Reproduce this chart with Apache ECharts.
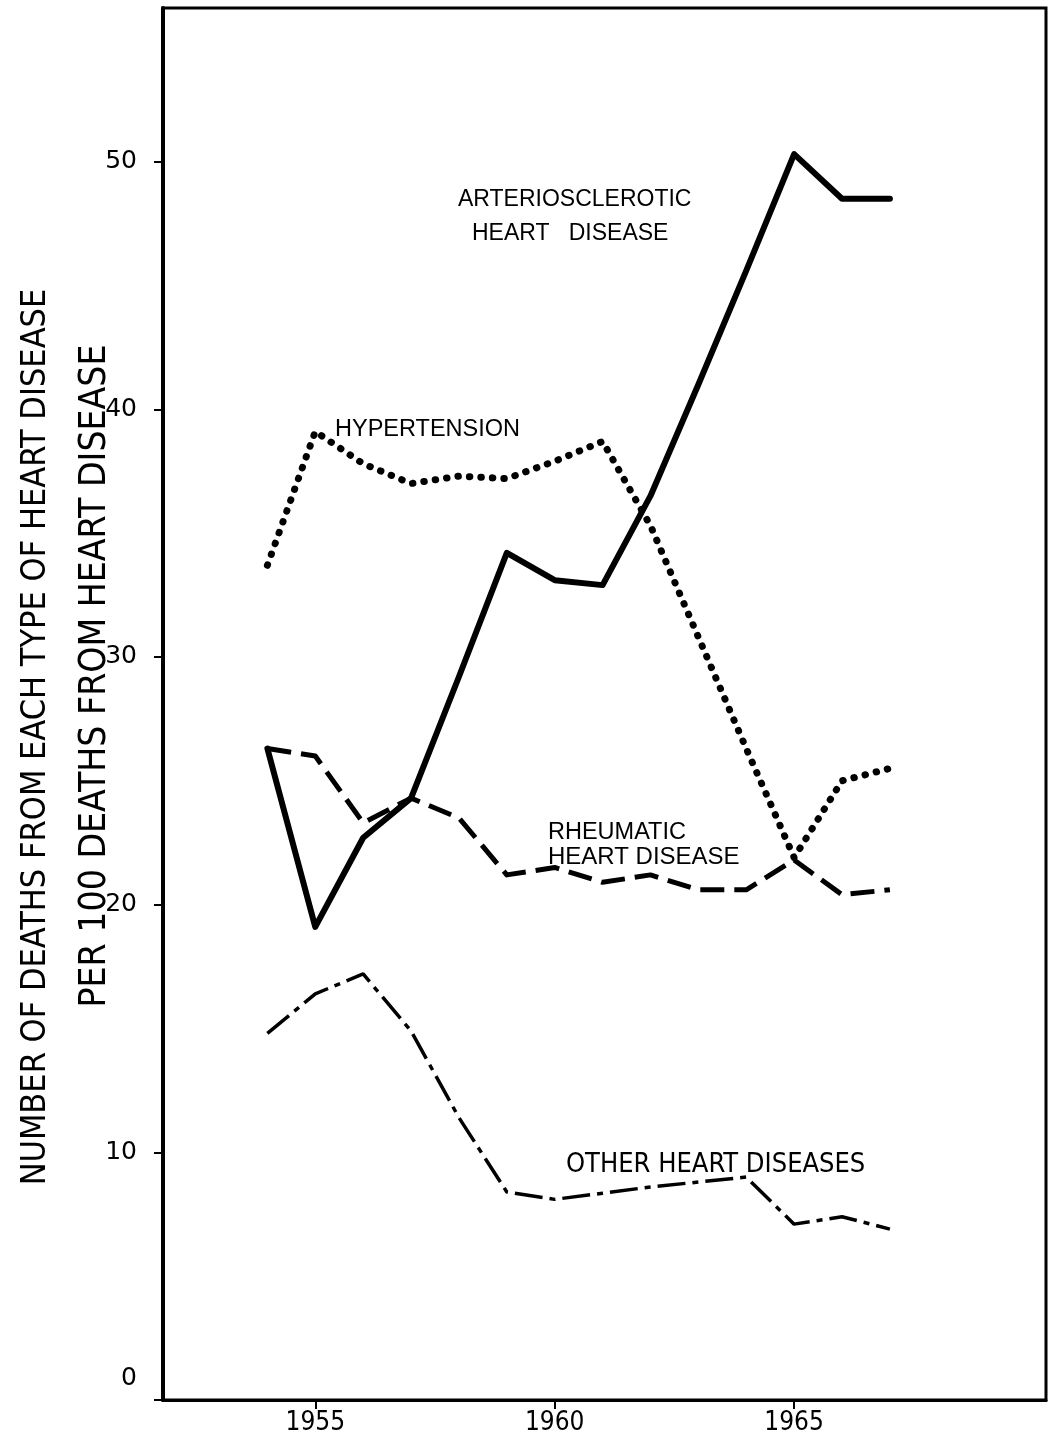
<!DOCTYPE html>
<html>
<head>
<meta charset="utf-8">
<title>Heart disease deaths</title>
<script src="https://cdn.jsdelivr.net/npm/echarts@6/dist/echarts.min.js"></script>
<style>
    html, body { margin: 0; padding: 0; background: #fff; }
    #chart { width: 1052px; height: 1444px; }
</style>
</head>
<body>
<div id="chart"></div>
<script>
// data, one value per year
var years = [1954, 1955, 1956, 1957, 1958, 1959, 1960, 1961, 1962, 1963, 1964, 1965, 1966, 1967];
var arterio = [26.3, 19.1, 22.7, 24.3, 29.2, 34.2, 33.1, 32.9, 36.5, 41.0, 45.6, 50.3, 48.5, 48.5];
var hyper = [33.7, 39.1, 37.8, 37.0, 37.3, 37.2, 37.9, 38.7, 35.3, 30.8, 26.3, 21.9, 25.0, 25.5];
var rheum = [26.3, 26.0, 23.3, 24.3, 23.5, 21.2, 21.5, 20.9, 21.2, 20.6, 20.6, 21.8, 20.4, 20.6];
var other = [14.8, 16.4, 17.2, 14.9, 11.4, 8.4, 8.1, 8.35, 8.6, 8.8, 9.0, 7.1, 7.4, 6.9];

var xTicks = [1955, 1960, 1965];
var yTicks = [0, 10, 20, 30, 40, 50];

var narrow = "'Liberation Sans Narrow', 'DejaVu Sans Condensed', 'Liberation Sans', sans-serif";
var plain = "'Liberation Sans', 'DejaVu Sans', sans-serif";

function pairs(vals) {
    var out = [];
    for (var i = 0; i < years.length; i++) {
        out.push([years[i], vals[i]]);
    }
    return out;
}

var option = {
    animation: false,
    backgroundColor: '#fff',
    grid: {
        left: 163, top: 8, right: 6, bottom: 44,
        show: true, borderColor: '#000', borderWidth: 3
    },
    xAxis: {
        type: 'value',
        min: 1951.82,
        max: 1970.26,
        splitLine: { show: false },
        axisLine: { show: true, lineStyle: { color: '#000', width: 3 } },
        axisTick: { show: true, customValues: xTicks, length: 9, lineStyle: { color: '#000', width: 2 } },
        axisLabel: {
            customValues: xTicks, margin: 10,
            color: '#000', fontSize: 26, fontFamily: narrow,
            formatter: function (v) { return String(v); }
        }
    },
    yAxis: {
        type: 'value',
        min: 0,
        max: 56.2,
        splitLine: { show: false },
        axisLine: { show: true, lineStyle: { color: '#000', width: 4 } },
        axisTick: { show: true, customValues: yTicks, length: 9, lineStyle: { color: '#000', width: 2 } },
        axisLabel: {
            customValues: yTicks, margin: 26,
            color: '#000', fontSize: 25, fontFamily: "'DejaVu Sans', sans-serif",
            formatter: function (v) { return v === 0 ? '{z|0}' : String(v); },
            rich: { z: { fontSize: 25, fontFamily: "'DejaVu Sans', sans-serif", padding: [0, 0, 44, 0] } }
        }
    },
    series: [
        {
            name: 'ARTERIOSCLEROTIC HEART DISEASE',
            type: 'line',
            data: pairs(arterio),
            symbol: 'none',
            lineStyle: { color: '#000', width: 6, join: 'round', cap: 'round' }
        },
        {
            name: 'HYPERTENSION',
            type: 'line',
            data: pairs(hyper),
            symbol: 'none',
            lineStyle: { color: '#000', width: 7, type: [0.5, 11], cap: 'round' }
        },
        {
            name: 'RHEUMATIC HEART DISEASE',
            type: 'line',
            data: pairs(rheum),
            symbol: 'none',
            lineStyle: { color: '#000', width: 5, type: [24, 10], join: 'round' }
        },
        {
            name: 'OTHER HEART DISEASES',
            type: 'line',
            data: pairs(other),
            symbol: 'none',
            lineStyle: { color: '#000', width: 3.5, type: [28, 7, 6, 7] }
        }
    ],
    graphic: [
        // y axis title, two lines reading upward
        { type: 'text', x: 36, y: 737, rotation: Math.PI / 2,
          style: { text: 'NUMBER OF DEATHS FROM EACH TYPE OF HEART DISEASE', fill: '#000',
                   font: '34px ' + narrow, align: 'center', verticalAlign: 'middle' } },
        { type: 'text', x: 95, y: 676, rotation: Math.PI / 2,
          style: { text: 'PER 100 DEATHS FROM HEART DISEASE', fill: '#000',
                   font: '37px ' + narrow, align: 'center', verticalAlign: 'middle' } },
        // curve labels
        { type: 'text', x: 458, y: 200,
          style: { text: 'ARTERIOSCLEROTIC', fill: '#000', font: '23px ' + plain, verticalAlign: 'middle' } },
        { type: 'text', x: 472, y: 234,
          style: { text: 'HEART   DISEASE', fill: '#000', font: '23px ' + plain, verticalAlign: 'middle' } },
        { type: 'text', x: 335, y: 430,
          style: { text: 'HYPERTENSION', fill: '#000', font: '23.5px ' + plain, verticalAlign: 'middle' } },
        { type: 'text', x: 548, y: 833,
          style: { text: 'RHEUMATIC', fill: '#000', font: '23.5px ' + plain, verticalAlign: 'middle' } },
        { type: 'text', x: 548, y: 857,
          style: { text: 'HEART DISEASE', fill: '#000', font: '24px ' + plain, verticalAlign: 'middle' } },
        { type: 'text', x: 566, y: 1165,
          style: { text: 'OTHER HEART DISEASES', fill: '#000', font: '27px ' + narrow, verticalAlign: 'middle' } }
    ]
};

var myChart = echarts.init(document.getElementById('chart'));
myChart.setOption(option);
</script>
</body>
</html>
